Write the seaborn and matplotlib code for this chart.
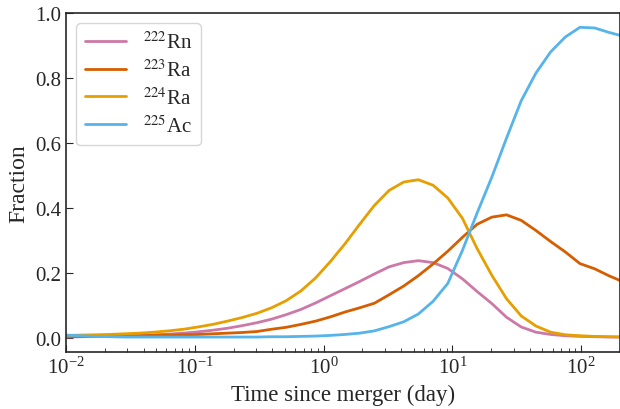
import numpy as np
import pandas as pd
import seaborn as sns
import matplotlib
matplotlib.use("Agg")
import matplotlib.pyplot as plt

# Data (time in days, fraction of each isotope)
time_day = [0.0100, 0.0130, 0.0169, 0.0220, 0.0286, 0.0372, 0.0483, 0.0628,
            0.0817, 0.106, 0.138, 0.179, 0.233, 0.303, 0.394, 0.513, 0.667,
            0.867, 1.127, 1.466, 1.905, 2.477, 3.221, 4.188, 5.445, 7.079,
            9.204, 11.97, 15.56, 20.23, 26.30, 34.20, 44.46, 57.81, 75.16,
            97.72, 127.1, 165.2, 214.8]

rn222 = [0.003, 0.004, 0.005, 0.006, 0.007, 0.008, 0.010, 0.012, 0.015,
         0.019, 0.024, 0.030, 0.038, 0.047, 0.058, 0.072, 0.088, 0.108,
         0.130, 0.152, 0.174, 0.197, 0.219, 0.232, 0.238, 0.232, 0.214,
         0.182, 0.143, 0.106, 0.064, 0.034, 0.018, 0.011, 0.007, 0.005,
         0.004, 0.003, 0.003]

ra223 = [0.005, 0.005, 0.006, 0.006, 0.007, 0.007, 0.008, 0.009, 0.010,
         0.011, 0.013, 0.015, 0.017, 0.020, 0.027, 0.033, 0.042, 0.052,
         0.065, 0.080, 0.093, 0.107, 0.133, 0.160, 0.192, 0.228, 0.267,
         0.310, 0.350, 0.372, 0.379, 0.362, 0.331, 0.297, 0.265, 0.229,
         0.213, 0.191, 0.172]

ra224 = [0.008, 0.009, 0.010, 0.011, 0.013, 0.015, 0.018, 0.022, 0.027,
         0.034, 0.042, 0.052, 0.063, 0.076, 0.093, 0.115, 0.145, 0.185,
         0.235, 0.290, 0.350, 0.408, 0.454, 0.480, 0.487, 0.470, 0.431,
         0.368, 0.275, 0.193, 0.121, 0.068, 0.037, 0.018, 0.010, 0.007,
         0.005, 0.004, 0.003]

ac225 = [0.009, 0.007, 0.005, 0.004, 0.003, 0.003, 0.003, 0.003, 0.003,
         0.003, 0.003, 0.003, 0.003, 0.003, 0.004, 0.004, 0.005, 0.006,
         0.008, 0.011, 0.015, 0.022, 0.035, 0.050, 0.074, 0.113, 0.168,
         0.270, 0.385, 0.495, 0.615, 0.730, 0.815, 0.880, 0.926, 0.956,
         0.954, 0.940, 0.928]

labels = ["$^{222}$Rn", "$^{223}$Ra", "$^{224}$Ra", "$^{225}$Ac"]
colors = ["#CC79A7", "#D55E00", "#E69F00", "#56B4E9"]

df = pd.DataFrame({
    "time": time_day * 4,
    "fraction": rn222 + ra223 + ra224 + ac225,
    "isotope": [lab for lab in labels for _ in time_day],
})

sns.set_style("ticks")
plt.rcParams["font.family"] = ["Liberation Serif", "DejaVu Serif"]
plt.rcParams["mathtext.fontset"] = "stix"

fig = plt.figure(figsize=(6.2, 4.1), dpi=100)
ax = fig.add_axes([66 / 620, 57 / 410, 554 / 620, 339 / 410])

sns.lineplot(data=df, x="time", y="fraction", hue="isotope",
             palette=dict(zip(labels, colors)), linewidth=2, ax=ax)

ax.set_xscale("log")
ax.set_xlim(0.01, 200)
ax.set_ylim(-0.043, 1.0)
ax.set_yticks([0.0, 0.2, 0.4, 0.6, 0.8, 1.0])
ax.set_xlabel("Time since merger (day)", fontsize=16.5)
ax.set_ylabel("Fraction", fontsize=17)
ax.tick_params(which="both", direction="in", labelsize=15)
ax.tick_params(which="major", length=5)
ax.tick_params(which="minor", length=3)

for s in ax.spines.values():
    s.set_linewidth(1.2)

leg = ax.legend(loc="upper left", fontsize=15, handlelength=2.0,
                handletextpad=0.8, labelspacing=0.3, borderpad=0.4,
                frameon=True, fancybox=True, edgecolor="#cccccc",
                borderaxespad=0.5)
leg.set_title(None)

fig.savefig("out.png", dpi=100)
